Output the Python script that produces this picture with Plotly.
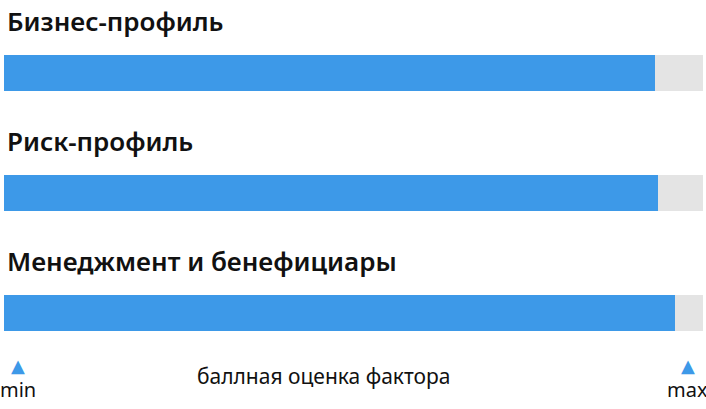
import plotly.graph_objects as go

# factor names and score (share of max, 0..100)
factors = ["Бизнес-профиль", "Риск-профиль", "Менеджмент и бенефициары"]
scores = [93.2, 93.6, 96.0]
scale_max = 100
scale_labels = ["min", "max"]
axis_caption = "баллная оценка фактора"

blue = "#3d99e8"
track = "#e4e4e4"
font = "Noto Sans"

pos = list(range(len(factors)))

fig = go.Figure()

# grey track behind each bar
fig.add_trace(go.Bar(
    x=[scale_max] * len(factors), y=pos, orientation="h",
    marker=dict(color=track, line=dict(width=0)),
    width=0.2975, hoverinfo="skip", showlegend=False,
))
# score bars
fig.add_trace(go.Bar(
    x=scores, y=pos, orientation="h",
    marker=dict(color=blue, line=dict(width=0)),
    width=0.2975, customdata=factors,
    hovertemplate="%{customdata}: %{x}<extra></extra>", showlegend=False,
))

# factor titles above the bars
for i, name in zip(pos, factors):
    fig.add_annotation(
        x=0, y=i - 0.43, xref="x", yref="y", text=name, showarrow=False,
        xanchor="left", yanchor="middle", xshift=1,
        font=dict(family=font, size=26, color="#111111", weight=600),
    )

# min / max markers under the scale
for lbl, xp in zip(scale_labels, [0.02, 0.978]):
    fig.add_annotation(
        x=xp, y=-0.105, xref="paper", yref="paper", text="▲", showarrow=False,
        xanchor="center", yanchor="middle",
        font=dict(family="DejaVu Sans", size=18, color=blue),
    )
    fig.add_annotation(
        x=xp, y=-0.177, xref="paper", yref="paper", text=lbl, showarrow=False,
        xanchor="center", yanchor="middle",
        font=dict(family=font, size=20, color="#111111"),
    )

fig.add_annotation(
    x=0.457, y=-0.135, xref="paper", yref="paper", text=axis_caption,
    showarrow=False, xanchor="center", yanchor="middle",
    font=dict(family=font, size=21, color="#111111"),
)

fig.update_layout(
    width=706, height=409,
    margin=dict(l=4, r=3, t=0, b=78, autoexpand=False),
    barmode="overlay", bargap=0,
    paper_bgcolor="white", plot_bgcolor="white",
    xaxis=dict(range=[0, scale_max], visible=False, fixedrange=True),
    yaxis=dict(range=[2.149, -0.607], visible=False, fixedrange=True),
)

# drop the default page margin so the chart sits at the window corner
fig.write_html("out.html", config={"displayModeBar": False},
               post_script="document.body.style.margin='0';")
